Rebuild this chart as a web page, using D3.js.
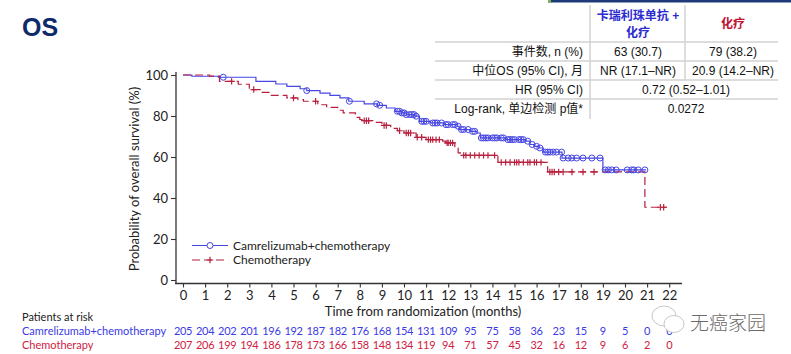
<!DOCTYPE html>
<html>
<head>
<meta charset="utf-8">
<script src="https://cdn.jsdelivr.net/npm/d3@7/dist/d3.min.js"></script>
<style>
  body { margin: 0; background: #fff; }
  svg { display: block; }
</style>
</head>
<body>
<svg id="chart" width="791" height="354"></svg>
<script>
// ===============================
// DADES
// ===============================

const monthTicks = d3.range(0, 23);
const yTicks = [0, 20, 40, 60, 80, 100];

// [mes, supervivència %] després de cada esglaó
const camreSteps = [
  [0, 100], [0.4, 99.4], [1.6, 98.9], [3.3, 96.9], [4.2, 95.6], [4.7, 94.5],
  [5.3, 93.3], [5.6, 92.4], [6.2, 91.2], [6.65, 90.1], [7.1, 88.8], [7.5, 87.2],
  [8.2, 85.9], [8.8, 85.2], [9.2, 83.9], [9.6, 82.3], [9.9, 81.5], [10.1, 80.7],
  [10.5, 79.9], [10.7, 77.4], [11.2, 76.6], [11.8, 75.8], [12.4, 75.0], [12.5, 73.4],
  [13.0, 72.5], [13.3, 71.7], [13.45, 69.3], [14.6, 68.5], [15.5, 67.7], [15.7, 66.1],
  [15.9, 65.2], [16.1, 64.4], [16.3, 62.4], [17.15, 59.5], [19.0, 53.7]
];
const camreEnd = 20.95;
const camreCensor = [
  1.82, 5.6, 7.53, 8.76, 8.9, 9.7, 9.8, 9.9, 10.0, 10.1, 10.25, 10.35, 10.45, 10.55,
  10.8, 10.9, 11.0, 11.3, 11.4, 11.5, 11.7, 11.9, 12.0, 12.2, 12.3, 12.45, 12.6, 12.7,
  12.9, 13.1, 13.2, 13.5, 13.6, 13.7, 13.8, 14.0, 14.1, 14.2, 14.4, 14.5, 14.7, 14.8,
  14.9, 15.0, 15.2, 15.3, 15.4, 15.6, 15.8, 16.0, 16.15, 16.4, 16.5, 16.6, 16.75, 16.9,
  17.13, 17.2, 17.43, 17.59, 17.81, 18.1, 18.5, 18.87, 19.1, 19.25, 19.4, 19.6, 20.1,
  20.3, 20.4, 20.6, 20.9
];

const chemoSteps = [
  [0, 100], [1.2, 99.5], [1.65, 96.9], [2.5, 95.5], [3.0, 92.9], [3.5, 91.5],
  [3.95, 90.1], [4.7, 88.8], [5.2, 88.0], [5.45, 87.2], [6.1, 85.5], [6.5, 84.2],
  [7.0, 82.8], [7.25, 81.5], [7.8, 79.3], [8.0, 78.3], [8.1, 77.7], [8.75, 76.9],
  [9.0, 75.4], [9.4, 74.0], [9.7, 72.8], [10.0, 71.7], [10.55, 69.6], [11.0, 68.5],
  [11.75, 67.7], [11.9, 66.9], [12.3, 64.4], [12.45, 62.0], [12.55, 60.8],
  [14.25, 57.4], [16.5, 52.7], [20.9, 35.5]
];
const chemoEnd = 21.9;
const chemoCensor = [
  2.2, 3.2, 5.0, 6.0, 8.2, 8.3, 8.4, 9.1, 9.2, 9.8, 10.1, 10.2, 10.3, 10.6, 10.8,
  11.1, 11.2, 11.3, 11.45, 11.6, 11.95, 12.0, 12.1, 12.2, 12.7, 12.8, 13.0, 13.2,
  13.4, 13.6, 13.8, 14.1, 14.4, 14.6, 14.8, 15.0, 15.1, 15.2, 15.4, 15.6, 15.7,
  15.9, 16.0, 16.2, 16.6, 16.7, 16.8, 17.0, 17.2, 17.6, 18.1, 18.6, 21.6, 21.75
];

const riskCamre = [205, 204, 202, 201, 196, 192, 187, 182, 176, 168, 154, 131, 109, 95, 75, 58, 36, 23, 15, 9, 5, 0, 0];
const riskChemo = [207, 206, 199, 194, 186, 178, 173, 166, 158, 148, 134, 119, 94, 71, 57, 45, 32, 16, 12, 9, 6, 2, 0];

const tableRows = [
  ["事件数, n (%)", "63 (30.7)", "79 (38.2)"],
  ["中位OS (95% CI), 月", "NR (17.1–NR)", "20.9 (14.2–NR)"],
  ["HR (95% CI)", "0.72 (0.52–1.01)"],
  ["Log-rank, 单边检测 p值*", "0.0272"]
];

// ===============================
// ESTILS
// ===============================
const BLUE = "#4646e2";
const RED = "#b8203e";
const BLUE_TXT = "#3a3ae6";
const RED_TXT = "#d0213f";
const AX = "#333";
const chartFont = "Lato, 'Open Sans', sans-serif";
const tableFont = "'Liberation Sans', 'Noto Sans CJK SC', Arial, sans-serif";

const svg = d3.select("#chart");

const x = d3.scaleLinear().domain([0, 22]).range([183, 669.2]);
const y = d3.scaleLinear().domain([0, 100]).range([280, 75]);

// ===============================
// BARRA SUPERIOR + TÍTOL
// ===============================
svg.append("rect").attr("x", 548).attr("y", 0).attr("width", 243).attr("height", 2.5).attr("fill", "#1e3a78");
svg.append("rect").attr("x", 548).attr("y", 0).attr("width", 3).attr("height", 2.5).attr("fill", "#7ab648");

svg.append("text")
  .attr("x", 22).attr("y", 36)
  .text("OS")
  .style("font-family", "'Liberation Sans', Arial, sans-serif")
  .style("font-size", "25px")
  .style("font-weight", "bold")
  .style("fill", "#0f2a6b");

// ===============================
// EIXOS
// ===============================
const yAxisX = 176;
const xAxisY = 283.5;

const gy = svg.append("g").attr("transform", `translate(${yAxisX},0)`)
  .call(d3.axisLeft(y).tickValues(yTicks).tickSizeOuter(0).tickSize(5).tickPadding(3));
gy.select(".domain").attr("d", `M0,${y(100) - 3}V${xAxisY}`);

const gx = svg.append("g").attr("transform", `translate(0,${xAxisY})`)
  .call(d3.axisBottom(x).tickValues(monthTicks).tickSizeOuter(0).tickSize(4).tickPadding(3));
gx.select(".domain").attr("d", `M${yAxisX - 1},0H682`);

[gx, gy].forEach(g => {
  g.selectAll(".domain").attr("stroke", AX).attr("stroke-width", 1.3);
  g.selectAll(".tick line").attr("stroke", AX).attr("stroke-width", 1.1);
  g.selectAll("text")
    .style("font-family", chartFont)
    .style("font-size", "13px")
    .style("fill", "#222");
});

svg.append("text")
  .attr("transform", `translate(139,179) rotate(-90)`)
  .attr("text-anchor", "middle")
  .text("Probability of overall survival (%)")
  .style("font-family", chartFont)
  .style("font-size", "13px")
  .style("fill", "#222");

svg.append("text")
  .attr("x", 423).attr("y", 316)
  .attr("text-anchor", "middle")
  .text("Time from randomization (months)")
  .style("font-family", chartFont)
  .style("font-size", "13px")
  .style("fill", "#222");

// ===============================
// CORBES KM
// ===============================
function survAt(steps, t) {
  let s = steps[0][1];
  steps.forEach(d => { if (d[0] <= t) s = d[1]; });
  return s;
}

const line = d3.line().x(d => x(d[0])).y(d => y(d[1])).curve(d3.curveStepAfter);

function drawCurve(steps, end, color, dash) {
  const pts = steps.concat([[end, steps[steps.length - 1][1]]]);
  svg.append("path")
    .attr("d", line(pts))
    .attr("fill", "none")
    .attr("stroke", color)
    .attr("stroke-width", 1.2)
    .attr("stroke-dasharray", dash);
}

drawCurve(camreSteps, camreEnd, BLUE, null);
drawCurve(chemoSteps, chemoEnd, RED, "8,4");

svg.append("g").selectAll("circle")
  .data(camreCensor)
  .enter()
  .append("circle")
  .attr("cx", d => x(d))
  .attr("cy", d => y(survAt(camreSteps, d)))
  .attr("r", 3)
  .attr("fill", "none")
  .attr("stroke", BLUE)
  .attr("stroke-width", 1);

function plus(g, cx, cy, size, color) {
  g.append("path")
    .attr("d", `M${cx - size},${cy}H${cx + size}M${cx},${cy - size}V${cy + size}`)
    .attr("stroke", color)
    .attr("stroke-width", 1.2);
}

const gPlus = svg.append("g");
chemoCensor.forEach(d => plus(gPlus, x(d), y(survAt(chemoSteps, d)), 3.2, RED));

// ===============================
// LLEGENDA
// ===============================
const lg = svg.append("g");
lg.append("line").attr("x1", 192).attr("x2", 228).attr("y1", 245.5).attr("y2", 245.5)
  .attr("stroke", BLUE).attr("stroke-width", 1.2);
lg.append("circle").attr("cx", 210).attr("cy", 245.5).attr("r", 3)
  .attr("fill", "white").attr("stroke", BLUE);
lg.append("line").attr("x1", 192).attr("x2", 228).attr("y1", 260).attr("y2", 260)
  .attr("stroke", RED).attr("stroke-width", 1.2).attr("stroke-dasharray", "8,4");
plus(lg, 210, 260, 3.2, RED);

[["Camrelizumab+chemotherapy", 245.5], ["Chemotherapy", 260]].forEach(([t, yy]) => {
  lg.append("text")
    .attr("x", 233).attr("y", yy).attr("dy", "0.35em")
    .text(t)
    .style("font-family", chartFont)
    .style("font-size", "12px")
    .style("fill", "#222");
});

// ===============================
// PACIENTS EN RISC
// ===============================
const risk = svg.append("g").style("font-family", chartFont).style("font-size", "11px");

risk.append("text").attr("x", 22).attr("y", 317).attr("dy", "0.35em")
  .text("Patients at risk").style("fill", "#222");
risk.append("text").attr("x", 22).attr("y", 331).attr("dy", "0.35em")
  .text("Camrelizumab+chemotherapy").style("fill", BLUE_TXT);
risk.append("text").attr("x", 22).attr("y", 345).attr("dy", "0.35em")
  .text("Chemotherapy").style("fill", RED_TXT);

risk.selectAll(".rc").data(riskCamre).enter().append("text")
  .attr("x", (d, i) => x(monthTicks[i])).attr("y", 331).attr("dy", "0.35em")
  .attr("text-anchor", "middle").attr("letter-spacing", "-0.3px")
  .text(d => d).style("fill", BLUE_TXT);
risk.selectAll(".rh").data(riskChemo).enter().append("text")
  .attr("x", (d, i) => x(monthTicks[i])).attr("y", 345).attr("dy", "0.35em")
  .attr("text-anchor", "middle").attr("letter-spacing", "-0.3px")
  .text(d => d).style("fill", RED_TXT);

// ===============================
// TAULA
// ===============================
const tb = svg.append("g").style("font-family", tableFont).style("font-size", "12px");
const col1 = 638, col2 = 733, colMid = 686, labelRight = 583;
const rowY = [52, 71, 90, 109];

[42, 61, 80, 99].forEach(yy => {
  tb.append("line").attr("x1", 435).attr("x2", 778).attr("y1", yy).attr("y2", yy)
    .attr("stroke", "#d2d2d2").attr("stroke-width", 1.5);
});
tb.append("line").attr("x1", 590).attr("x2", 590).attr("y1", 5).attr("y2", 119)
  .attr("stroke", "#d2d2d2").attr("stroke-width", 1.5);
tb.append("line").attr("x1", 685).attr("x2", 685).attr("y1", 5).attr("y2", 80)
  .attr("stroke", "#d2d2d2").attr("stroke-width", 1.5);

tb.append("text").attr("x", col1).attr("y", 16).attr("dy", "0.35em").attr("text-anchor", "middle")
  .text("卡瑞利珠单抗 +").style("font-weight", "bold").style("fill", "#2b2bd0");
tb.append("text").attr("x", col1).attr("y", 33).attr("dy", "0.35em").attr("text-anchor", "middle")
  .text("化疗").style("font-weight", "bold").style("fill", "#2b2bd0");
tb.append("text").attr("x", col2).attr("y", 24).attr("dy", "0.35em").attr("text-anchor", "middle")
  .text("化疗").style("font-weight", "bold").style("fill", "#c01030");

tableRows.forEach((r, i) => {
  tb.append("text").attr("x", labelRight).attr("y", rowY[i]).attr("dy", "0.35em")
    .attr("text-anchor", "end").text(r[0]).style("fill", "#111");
  if (r.length === 3) {
    tb.append("text").attr("x", col1).attr("y", rowY[i]).attr("dy", "0.35em")
      .attr("text-anchor", "middle").text(r[1]).style("fill", "#111");
    tb.append("text").attr("x", col2).attr("y", rowY[i]).attr("dy", "0.35em")
      .attr("text-anchor", "middle").text(r[2]).style("fill", "#111");
  } else {
    tb.append("text").attr("x", colMid).attr("y", rowY[i]).attr("dy", "0.35em")
      .attr("text-anchor", "middle").text(r[1]).style("fill", "#111");
  }
});

// ===============================
// MARCA D'AIGUA
// ===============================
const wm = svg.append("g").attr("fill", "white").attr("stroke", "#c8c8c8").attr("stroke-width", 1);
wm.append("ellipse").attr("cx", 664).attr("cy", 316).attr("rx", 12).attr("ry", 10);
wm.append("ellipse").attr("cx", 674).attr("cy", 324).attr("rx", 10).attr("ry", 8.5);
svg.append("text")
  .attr("x", 690).attr("y", 323).attr("dy", "0.35em")
  .text("无癌家园")
  .style("font-family", "'Noto Sans CJK SC', sans-serif")
  .style("font-size", "19px")
  .style("font-weight", "300")
  .style("fill", "#6a6a6a");
</script>
</body>
</html>
